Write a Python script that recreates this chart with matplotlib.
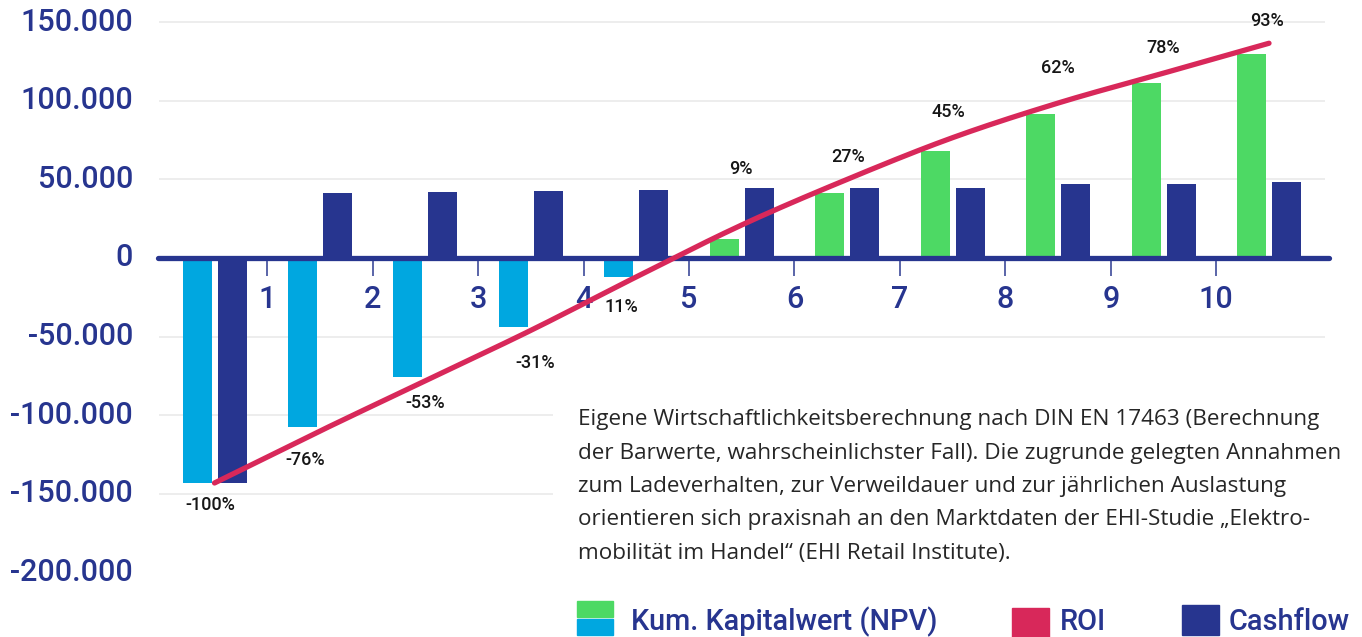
import numpy as np
import matplotlib
matplotlib.use("Agg")
import matplotlib.pyplot as plt
from matplotlib import font_manager as fm
from matplotlib.patches import Rectangle

# ---------------- data ----------------
years = list(range(11))
year_labels = ["1", "2", "3", "4", "5", "6", "7", "8", "9", "10"]
npv = [-143000, -107200, -75400, -43700, -11900, 12100, 41500, 68000, 91500, 111200, 129700]
cashflow = [-143000, 41300, 41800, 42500, 43200, 44500, 44500, 44500, 47000, 47000, 48300]
roi_curve = [-143000, -110000, -78000, -46000, -12000, 21000, 50000, 76500, 98500, 117500, 136500]
roi_labels = ["-100%", "-76%", "-53%", "-31%", "11%", "9%", "27%", "45%", "62%", "78%", "93%"]
ytick_vals = [150000, 100000, 50000, 0, -50000, -100000, -150000, -200000]
note_lines = [
    "Eigene Wirtschaftlichkeitsberechnung nach DIN EN 17463 (Berechnung",
    "der Barwerte, wahrscheinlichster Fall). Die zugrunde gelegten Annahmen",
    "zum Ladeverhalten, zur Verweildauer und zur jährlichen Auslastung",
    "orientieren sich praxisnah an den Marktdaten der EHI-Studie \u201eElektro-",
    "mobilität im Handel\u201c (EHI Retail Institute).",
]
legend_npv = "Kum. Kapitalwert (NPV)"
legend_roi = "ROI"
legend_cf = "Cashflow"

# ---------------- layout / style ----------------
# label placement relative to the curve point (pixels: right, down)
roi_label_offsets_px = [(-4, 22), (-15, 29), (0, 22), (4, 33), (-15, 30),
                        (-1, -56), (1, -22), (-4, -26), (0, -35), (0, -25), (-2, -22)]

NAVY = "#27358f"
CYAN = "#00a7e0"
GREEN = "#4dd964"
RED = "#d8285a"
GRID = "#ececec"
TXT = "#161616"

names = {f.name for f in fm.fontManager.ttflist}
COND = "Liberation Sans Narrow" if "Liberation Sans Narrow" in names else "Roboto"
BODY = "Open Sans" if "Open Sans" in names else "DejaVu Sans"
narrow = COND == "Liberation Sans Narrow"

W, H = 1362, 637
fig = plt.figure(figsize=(W / 100, H / 100), dpi=100)
ax = fig.add_axes([0, 0, 1, 1])
ax.set_axis_off()

# pixel layout -> data helpers
X0, DX = 214.5, 105.45      # pixel x of group 0, group spacing
Y0, PPU = 258.0, 1.5733e-3  # pixel y of zero, pixels per unit
def px2x(px):
    return (px - X0) / DX
def py2y(py):
    return (Y0 - py) / PPU

ax.set_xlim(px2x(0), px2x(W))
ax.set_ylim(py2y(H), py2y(0))

# gridlines
for v in ytick_vals:
    if v == 0 or v == -200000:
        continue
    right = px2x(1325) if v >= -50000 else px2x(553)
    ax.hlines(v, px2x(159), right, color=GRID, lw=1.3, zorder=0)

# bars
bw = 29 / DX
off = 17.5 / DX
x = np.array(years, dtype=float)
npv_colors = [GREEN if v >= 0 else CYAN for v in npv]
ax.bar(x - off, npv, width=bw, color=npv_colors, zorder=2, linewidth=0)
ax.bar(x + off, cashflow, width=bw, color=NAVY, zorder=2, linewidth=0)

# zero line + ticks
ax.plot([px2x(158), px2x(1329)], [0, 0], color=NAVY, lw=3.8,
        solid_capstyle="round", zorder=3)
xt = x[:-1] + 0.5
ax.vlines(xt, py2y(261), py2y(276), color="#3d4a9a", lw=1.2, zorder=3)
for xi, lab in zip(xt, year_labels):
    ax.text(xi, py2y(299), lab, ha="center", va="center",
            fontsize=23 if narrow else 22, color=NAVY, family=COND,
            fontweight="medium")

# y tick labels
for v in ytick_vals:
    lab = f"{v:,}".replace(",", ".")
    ax.text(px2x(133), v, lab, ha="right", va="center",
            fontsize=25 if narrow else 22, color=NAVY, family=COND,
            fontweight="medium")

# ROI curve (smooth)
def catmull(xs, ys, n=24):
    P = np.column_stack([xs, ys]).astype(float)
    P = np.vstack([2 * P[0] - P[1], P, 2 * P[-1] - P[-2]])
    out = []
    t = np.linspace(0, 1, n, endpoint=False)[:, None]
    for i in range(1, len(P) - 2):
        p0, p1, p2, p3 = P[i - 1], P[i], P[i + 1], P[i + 2]
        seg = 0.5 * ((2 * p1) + (-p0 + p2) * t + (2 * p0 - 5 * p1 + 4 * p2 - p3) * t ** 2
                     + (-p0 + 3 * p1 - 3 * p2 + p3) * t ** 3)
        out.append(seg)
    out.append(P[-2][None])
    return np.vstack(out)

curve = catmull(x, roi_curve)
ax.plot(curve[:, 0], curve[:, 1], color=RED, lw=3.8, solid_capstyle="round", zorder=4)

for xi, yv, lab, (odx, ody) in zip(x, roi_curve, roi_labels, roi_label_offsets_px):
    ax.annotate(lab, (xi, yv), xytext=(odx * 0.72, -ody * 0.72), textcoords="offset points",
                ha="center", va="center", fontsize=13.5 if narrow else 13,
                color=TXT, family=COND, fontweight="medium", zorder=5)

# note text
for k, line in enumerate(note_lines):
    fig.text(578 / W, 1 - (425 + 33.5 * k) / H, line, ha="left", va="baseline",
             fontsize=16.2, color="#262626", family=BODY, fontweight="normal")

# legend
def fig_rect(x0, y0, x1, y1, color):
    fig.patches.append(Rectangle((x0 / W, 1 - y1 / H), (x1 - x0) / W, (y1 - y0) / H,
                                 transform=fig.transFigure, color=color, zorder=5))

fig_rect(577, 601, 613, 617, GREEN)
fig_rect(577, 619, 613, 635, CYAN)
fig_rect(1012, 608, 1049, 637, RED)
fig_rect(1182, 605, 1219, 635, NAVY)
for xpx, lab in [(631, legend_npv), (1060, legend_roi), (1229, legend_cf)]:
    fig.text(xpx / W, 1 - 630 / H, lab, ha="left", va="baseline",
             fontsize=21.5 if narrow else 20.8,
             color=NAVY, family=COND, fontweight="medium")

fig.savefig("out.png", dpi=100)
